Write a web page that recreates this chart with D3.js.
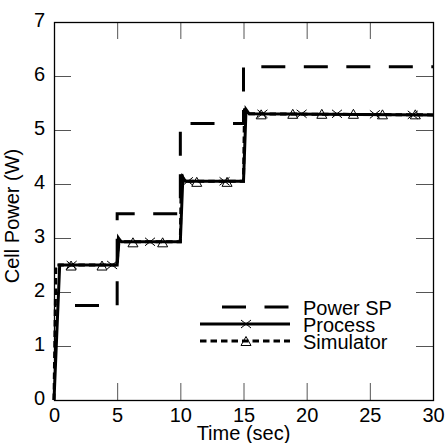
<!DOCTYPE html>
<html lang="en">
<head>
    <meta charset="UTF-8">
    <title>Cell Power | D3</title>
    <style>
        body { margin: 0; background: #fff; }
        svg text { font-family: "Liberation Sans", Arial, sans-serif; fill: #000; }
    </style>
</head>
<body>
    <div class="graph-container"></div>

    <script type="text/javascript" src="https://cdn.jsdelivr.net/npm/d3@7"></script>
    <script type="text/javascript">
        // power set point (step changes every 5 sec)
        var spTime = [0, 5, 5, 10, 10, 15, 15, 30];
        var spPower = [1.75, 1.75, 3.45, 3.45, 5.12, 5.12, 6.17, 6.17];

        // measured process response
        var processTime = [0, 0.45, 5.0, 5.15, 5.35, 10.0, 10.2, 10.4, 15.0, 15.2, 15.45, 30];
        var processPower = [0, 2.5, 2.5, 2.97, 2.93, 2.93, 4.12, 4.05, 4.05, 5.38, 5.3, 5.28];

        // simulator response
        var simTime = [0, 0.15, 5.0, 5.1, 5.3, 10.0, 10.08, 10.3, 15.0, 15.08, 15.3, 30];
        var simPower = [0, 2.5, 2.5, 3.0, 2.93, 2.93, 4.2, 4.05, 4.05, 5.4, 5.3, 5.28];

        // marker positions
        var processMarkTime = [1.4, 4.6, 7.6, 10.6, 13.5, 16.5, 19.6, 22.4, 25.4, 28.4];
        var processMarkPower = [2.5, 2.5, 2.93, 4.05, 4.05, 5.3, 5.3, 5.3, 5.29, 5.28];
        var simMarkTime = [1.35, 3.8, 6.25, 8.6, 11.3, 13.7, 16.4, 18.9, 21.2, 23.7, 26.0, 28.6];
        var simMarkPower = [2.49, 2.49, 2.92, 2.92, 4.04, 4.04, 5.29, 5.3, 5.3, 5.3, 5.29, 5.29];

        var xTicks = [0, 5, 10, 15, 20, 25, 30];
        var yTicks = [0, 1, 2, 3, 4, 5, 6, 7];
        var legendLabels = ["Power SP", "Process", "Simulator"];

        var canvasWidth = 446;
        var canvasHeight = 443;
        var margin = { top: 22, right: 13, bottom: 43, left: 54 };
        var plotLeft = margin.left, plotRight = canvasWidth - margin.right;
        var plotTop = margin.top, plotBottom = canvasHeight - margin.bottom;

        var x = d3.scaleLinear().domain([0, 30]).range([plotLeft, plotRight]);
        var y = d3.scaleLinear().domain([0, 7]).range([plotBottom, plotTop]);

        var svg = d3.select(".graph-container")
            .append("svg")
            .attr("width", canvasWidth)
            .attr("height", canvasHeight);

        // inward ticks on all four sides
        function styleAxis(g) {
            g.select(".domain").remove();
            g.selectAll(".tick line").attr("stroke", "#555");
            g.selectAll("text").attr("font-size", 20).attr("fill", "#000");
        }

        svg.append("g")
            .attr("transform", "translate(" + plotLeft + ",0)")
            .call(d3.axisLeft(y).tickValues(yTicks).tickFormat(d3.format("d")).tickSize(-17).tickPadding(9))
            .call(styleAxis)
            .selectAll("text").attr("dy", "0.2em");

        svg.append("g")
            .attr("transform", "translate(0," + plotBottom + ")")
            .call(d3.axisBottom(x).tickValues(xTicks).tickFormat(d3.format("d")).tickSize(-17).tickPadding(8))
            .call(styleAxis);

        svg.append("g")
            .attr("transform", "translate(" + plotRight + ",0)")
            .call(d3.axisRight(y).tickValues(yTicks).tickSize(-17).tickFormat(""))
            .call(styleAxis);

        svg.append("g")
            .attr("transform", "translate(0," + plotTop + ")")
            .call(d3.axisTop(x).tickValues(xTicks).tickSize(-17).tickFormat(""))
            .call(styleAxis);

        // frame
        svg.append("rect")
            .attr("x", plotLeft + 0.5)
            .attr("y", plotTop + 0.5)
            .attr("width", plotRight - plotLeft)
            .attr("height", plotBottom - plotTop)
            .attr("fill", "none")
            .attr("stroke", "#000")
            .attr("stroke-width", 1.3);

        var line = d3.line()
            .x(function(d) { return x(d[0]); })
            .y(function(d) { return y(d[1]); });

        var spDash = { array: "24,18.5", offset: 21.5 };
        var simDash = "6.5,4";

        svg.append("path")
            .datum(d3.zip(spTime, spPower))
            .attr("d", line)
            .attr("fill", "none")
            .attr("stroke", "#000")
            .attr("stroke-width", 3)
            .attr("stroke-dasharray", spDash.array)
            .attr("stroke-dashoffset", spDash.offset);

        svg.append("path")
            .datum(d3.zip(processTime, processPower))
            .attr("d", line)
            .attr("fill", "none")
            .attr("stroke", "#000")
            .attr("stroke-width", 3);

        svg.append("path")
            .datum(d3.zip(simTime, simPower))
            .attr("d", line)
            .attr("fill", "none")
            .attr("stroke", "#000")
            .attr("stroke-width", 3)
            .attr("stroke-dasharray", simDash);

        var crossPath = "M-5,-4L5,4M-5,4L5,-4";
        var triPath = "M0,-4.5L5,4.5L-5,4.5Z";

        svg.append("g").selectAll("path")
            .data(d3.zip(processMarkTime, processMarkPower))
            .enter()
                .append("path")
                .attr("d", crossPath)
                .attr("transform", function(d) { return "translate(" + x(d[0]) + "," + y(d[1]) + ")"; })
                .attr("fill", "none")
                .attr("stroke", "#000")
                .attr("stroke-width", 1);

        svg.append("g").selectAll("path")
            .data(d3.zip(simMarkTime, simMarkPower))
            .enter()
                .append("path")
                .attr("d", triPath)
                .attr("transform", function(d) { return "translate(" + x(d[0]) + "," + y(d[1]) + ")"; })
                .attr("fill", "none")
                .attr("stroke", "#000")
                .attr("stroke-width", 1);

        // axis titles
        svg.append("text")
            .attr("x", (plotLeft + plotRight) / 2)
            .attr("y", 440)
            .attr("text-anchor", "middle")
            .attr("font-size", 20)
            .text("Time (sec)");

        svg.append("text")
            .attr("transform", "translate(19," + ((plotTop + plotBottom) / 2 + 5) + ") rotate(-90)")
            .attr("text-anchor", "middle")
            .attr("font-size", 20)
            .text("Cell Power (W)");

        // legend
        var legend = svg.append("g").attr("transform", "translate(200,307)");
        var legendRows = legend.selectAll("g")
            .data(legendLabels)
            .enter()
                .append("g")
                .attr("transform", function(d, i) { return "translate(0," + (i * 17) + ")"; });

        // the set point sample starts on its first dash
        legendRows.append("line")
            .attr("x1", function(d, i) { return i === 0 ? 22 : 0; })
            .attr("x2", 90)
            .attr("stroke", "#000")
            .attr("stroke-width", 3)
            .attr("stroke-dasharray", function(d, i) { return i === 0 ? spDash.array : (i === 2 ? simDash : null); });

        legendRows.filter(function(d, i) { return i > 0; })
            .append("path")
            .attr("d", function(d, i) { return i === 0 ? crossPath : triPath; })
            .attr("transform", "translate(46,0)")
            .attr("fill", "none")
            .attr("stroke", "#000")
            .attr("stroke-width", 1);

        legendRows.append("text")
            .attr("x", 103)
            .attr("y", 7.5)
            .attr("font-size", 20)
            .text(function(d) { return d; });
    </script>
</body>
</html>
